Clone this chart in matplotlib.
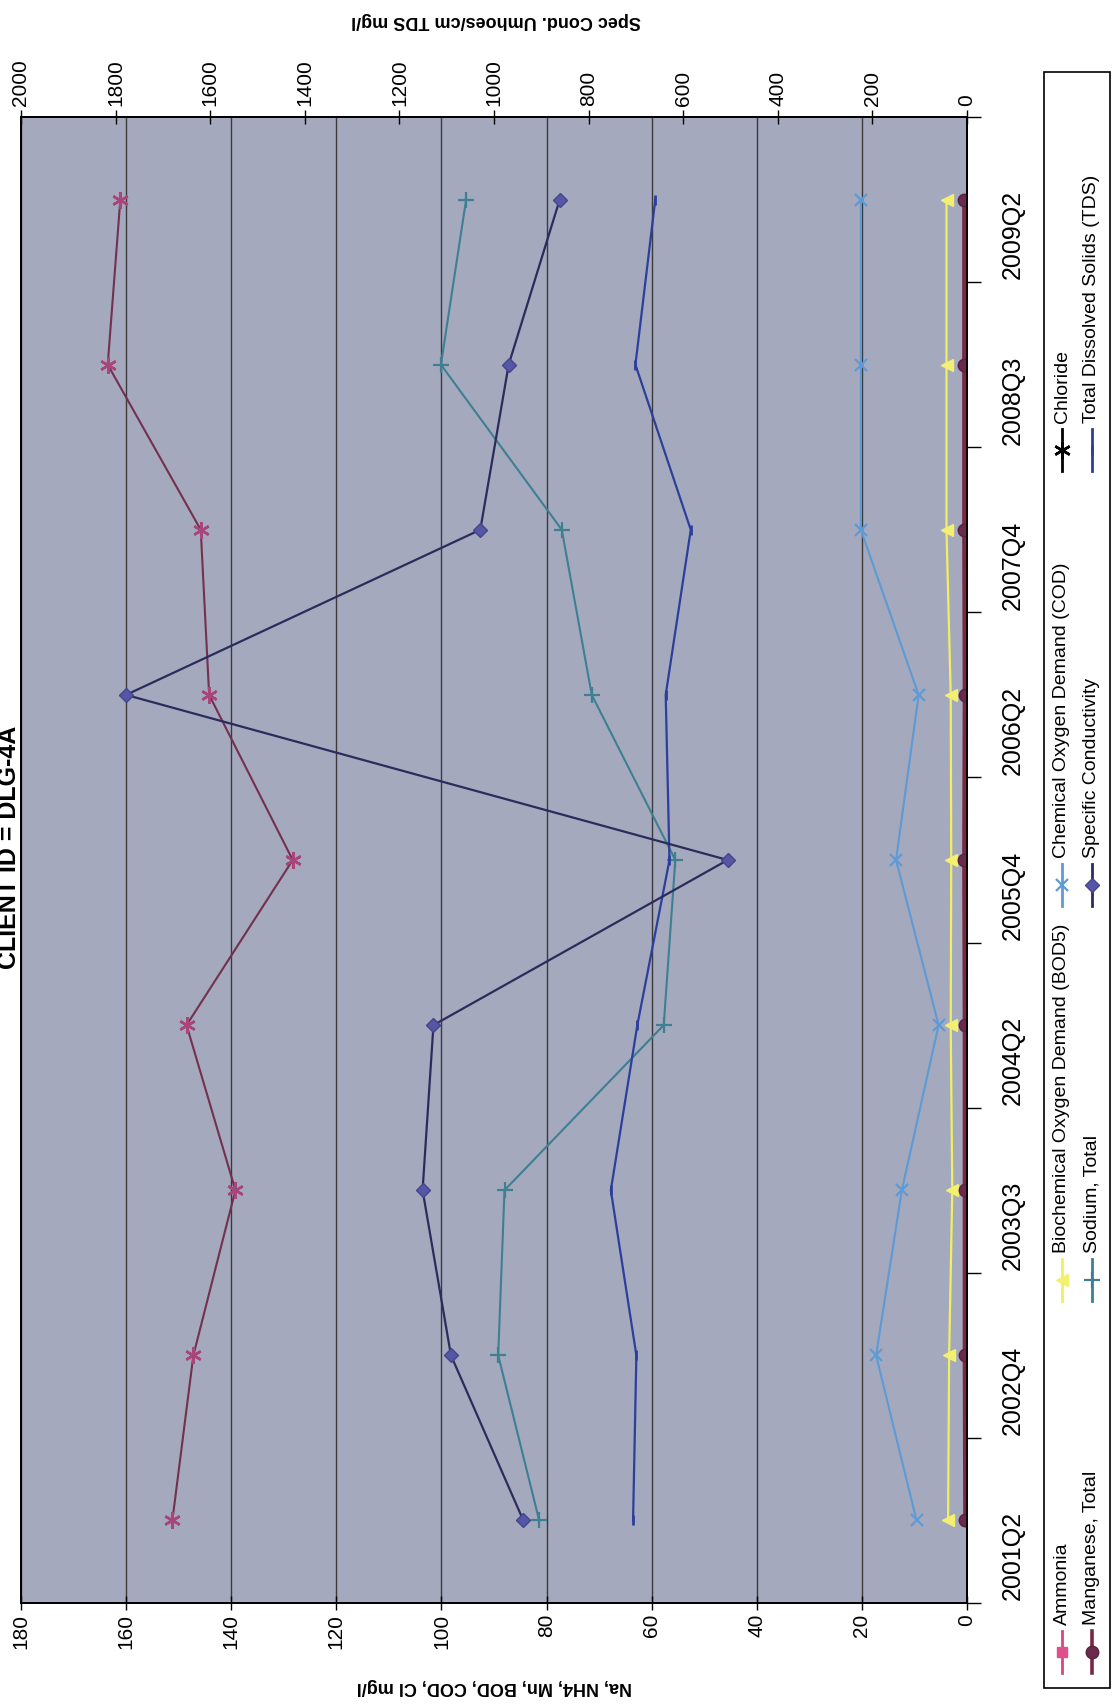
"""Groundwater quality chart for DLG-4A (scanned page, rotated 90 deg CCW)."""
import numpy as np
import matplotlib
matplotlib.use("Agg")
import matplotlib.pyplot as plt
from matplotlib import font_manager

# sampling events, bottom -> top in the rotated page
quarters = ["2001Q2", "2002Q4", "2003Q3", "2004Q2", "2005Q4",
            "2006Q2", "2007Q4", "2008Q3", "2009Q2"]

# left axis, mg/l
ammonia = [0.2, 0.2, 0.2, 0.2, 0.2, 0.2, 0.2, 0.2, 0.2]
manganese = [0.3, 0.4, 0.4, 0.4, 0.5, 0.4, 0.5, 0.5, 0.5]
bod = [3.6, 3.4, 2.8, 3.1, 3.0, 3.1, 3.9, 3.9, 3.9]
cod = [9.6, 17.3, 12.4, 5.4, 13.5, 9.2, 20.2, 20.2, 20.2]
chloride = [151.2, 147.2, 139.2, 148.5, 128.3, 144.2, 145.8, 163.5, 161.1]
sodium = [81.4, 89.2, 88.0, 57.7, 55.5, 71.4, 77.1, 100.1, 95.3]

# right axis, umhos/cm and mg/l
spec_cond = [938, 1091, 1151, 1128, 506, 1778, 1029, 969, 861]
tds = [706, 699, 753, 697, 629, 637, 584, 701, 659]

W, H = 1112, 1705
plt.rcParams["font.family"] = ["Liberation Sans", "DejaVu Sans"]

ASTERISK = (6, 2, 0)


def _narrow_family():
    try:
        font_manager.findfont("Liberation Sans Narrow", fallback_to_default=False)
        return ["Liberation Sans Narrow", "DejaVu Sans"]
    except Exception:
        return ["Liberation Sans", "DejaVu Sans"]


def _box(x0, y0, x1, y1):
    # pixel box (top-left origin) -> figure fraction
    return [x0 / W, 1 - y1 / H, (x1 - x0) / W, (y1 - y0) / H]


STYLES = {
    "Ammonia": dict(color="#d8457f", marker="s", ms=7, mfc="#e0508a", mec="#e0508a", lw=1.5),
    "Manganese, Total": dict(color="#7a2842", marker="o", ms=9, mfc="#6a2a4c", mec="#5a2040", lw=3.2),
    "Biochemical Oxygen Demand (BOD5)": dict(color="#f0ef62", marker="<", ms=9, mfc="#f3ef70", mec="#f3ef70", lw=1.6),
    "Sodium, Total": dict(color="#3f7f92", marker="+", ms=11, mew=1.6, lw=1.5),
    "Chemical Oxygen Demand (COD)": dict(color="#5d9ad6", marker="x", ms=9, mew=1.6, lw=1.5),
    "Specific Conductivity": dict(color="#2c2c5c", marker="D", ms=7, mfc="#5656a6", mec="#45458c", lw=1.6),
    "Chloride": dict(color="#73304f", marker=ASTERISK, ms=12, mew=1.8, mec="#a8457a", lw=1.5),
    "Total Dissolved Solids (TDS)": dict(color="#2c3f9c", marker="|", ms=7, mew=2, lw=1.6),
}

fig = plt.figure(figsize=(W / 100, H / 100), dpi=100)
ax = fig.add_axes(_box(21, 117, 967, 1603))
ax.set_facecolor("#a4a9bd")
y = np.arange(len(quarters))

for name, vals in [("Chloride", chloride), ("Sodium, Total", sodium),
                   ("Chemical Oxygen Demand (COD)", cod),
                   ("Biochemical Oxygen Demand (BOD5)", bod),
                   ("Ammonia", ammonia), ("Manganese, Total", manganese)]:
    ax.plot(vals, y, **STYLES[name], zorder=3)

ax.set_xlim(180, 0)
ax.set_ylim(-0.5, len(quarters) - 0.5)
ax.set_xticks(range(0, 181, 20))
ax.tick_params(axis="x", direction="inout", length=10, width=1, labelsize=15,
               labelrotation=90, pad=3)
ax.grid(axis="x", color="#3a3a3a", lw=1)
ax.set_axisbelow(True)

ax.yaxis.tick_right()
ax.set_yticks(y, quarters)
ax.set_yticks(np.arange(-0.5, len(quarters), 1), minor=True)
ax.tick_params(axis="y", which="major", length=0, labelsize=18, labelrotation=90, pad=24)
ax.tick_params(axis="y", which="minor", length=10, width=1, direction="out")

ax2 = ax.twiny()
ax2.plot(tds, y, **STYLES["Total Dissolved Solids (TDS)"], zorder=3)
ax2.plot(spec_cond, y, **STYLES["Specific Conductivity"], zorder=4)
ax2.set_xlim(2000, 0)
ax2.set_xticks(range(0, 2001, 200))
ax2.tick_params(axis="x", direction="inout", length=10, width=1, labelsize=15,
                labelrotation=90, pad=3)

for a in (ax, ax2):
    for s in a.spines.values():
        s.set_color("black")
        s.set_linewidth(1.3)

# overlay in page pixels for titles and the hand-built rotated legend
ov = fig.add_axes([0, 0, 1, 1], zorder=10)
ov.set_xlim(0, W)
ov.set_ylim(H, 0)
ov.axis("off")

ov.text(9, 847, "CLIENT ID = DLG-4A", rotation=90, ha="center", va="center",
        fontsize=18, fontweight="bold")
ov.text(494, 1686, "Na, NH4, Mn, BOD, COD, Cl mg/l", rotation=180, ha="center",
        va="center", fontsize=13, fontweight="bold")
ov.text(496, 21, "Spec Cond. Umhoes/cm TDS mg/l", rotation=180, ha="center",
        va="center", fontsize=13, fontweight="bold")

ov.add_patch(plt.Rectangle((1044, 72), 66, 1616, fill=False, ec="black", lw=1.2))
legend_rows = [1062, 1092]
legend_cols = [1652, 1280, 885, 450]
legend_order = [["Ammonia", "Manganese, Total"],
                ["Biochemical Oxygen Demand (BOD5)", "Sodium, Total"],
                ["Chemical Oxygen Demand (COD)", "Specific Conductivity"],
                ["Chloride", "Total Dissolved Solids (TDS)"]]
narrow = _narrow_family()
for cy, pair in zip(legend_cols, legend_order):
    for rx, name in zip(legend_rows, pair):
        st = dict(STYLES[name])
        lw = max(min(st.pop("lw"), 2.6), 2.0)
        color = st.pop("color")
        if name == "Chloride":
            color, st["mec"] = "black", "black"
        ov.plot([rx, rx], [cy + 21, cy - 21], color=color, lw=lw)
        ov.plot([rx], [cy], ls="none", color=color, **st)
        ov.text(rx, cy - 27, name, rotation=90, rotation_mode="anchor", ha="left",
                va="center", fontsize=14, family=narrow)

fig.savefig("out.png", dpi=100)
